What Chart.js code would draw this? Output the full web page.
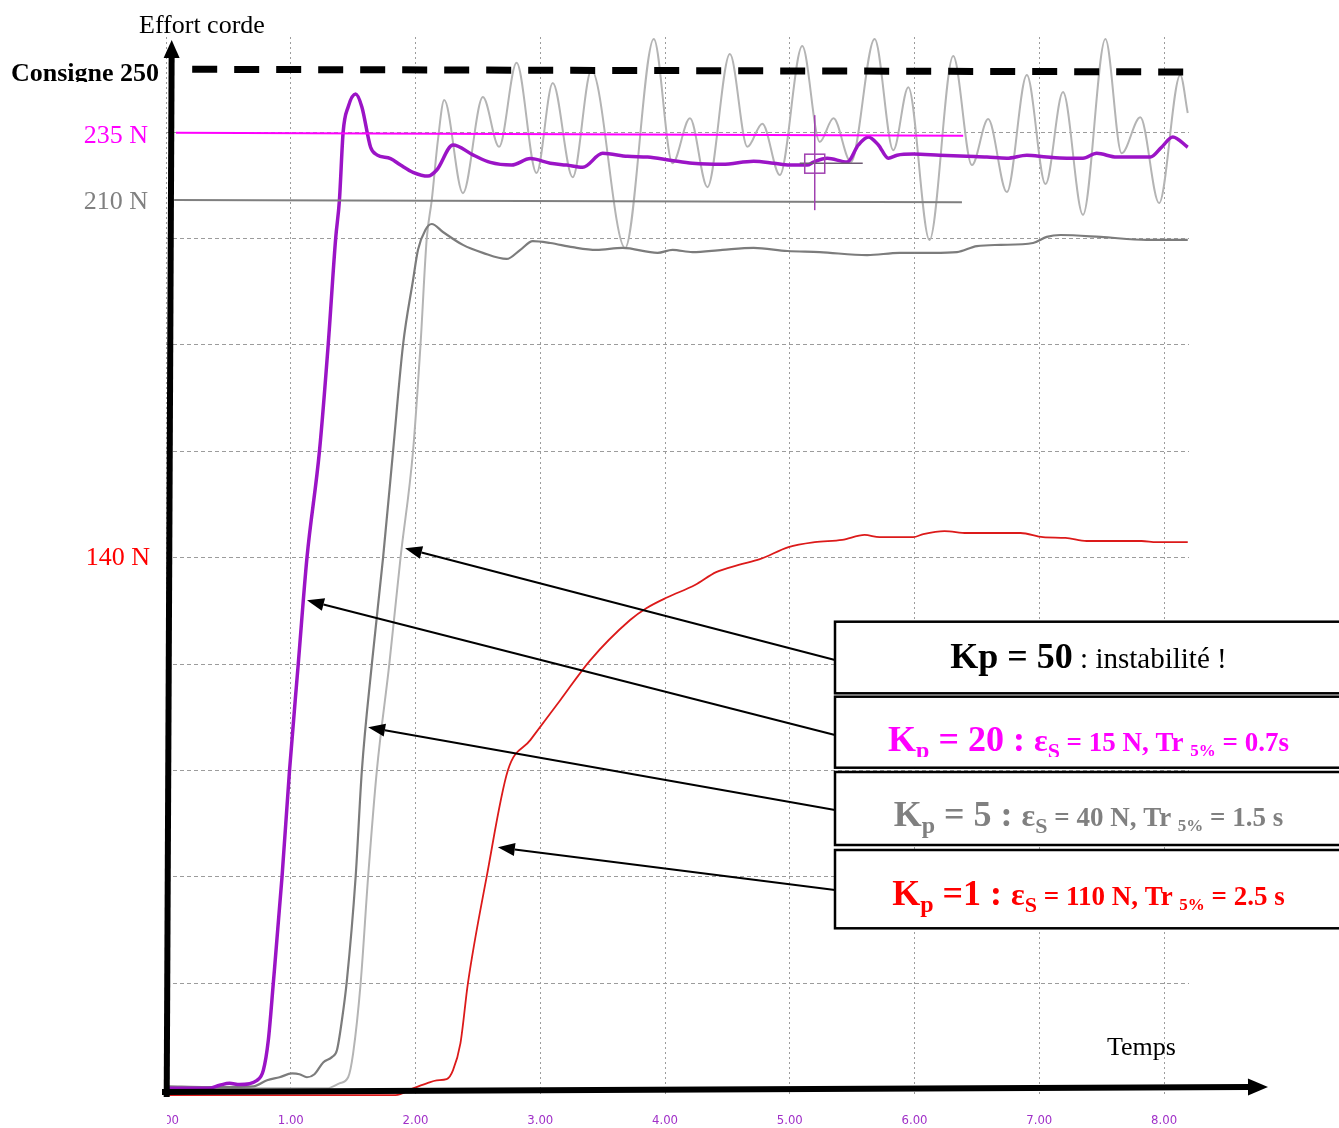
<!DOCTYPE html>
<html lang="fr">
<head>
<meta charset="utf-8">
<title>Effort corde</title>
<script src="https://cdn.jsdelivr.net/npm/chart.js"></script>
<style>
  html, body { margin: 0; padding: 0; background: #fff; }
  #chart { display: block; }
</style>
</head>
<body>
<canvas id="chart" width="1339" height="1128"></canvas>
<script>
const kp20Time = [0.02,0.34,0.43,0.51,0.59,0.73,0.78,0.82,0.86,0.93,0.99,1.06,1.13,1.23,1.30,1.36,1.39,1.42,1.46,1.52,1.57,1.64,1.69,1.80,1.88,1.98,2.10,2.17,2.30,2.46,2.60,2.77,2.92,3.08,3.21,3.34,3.50,3.70,3.86,4.04,4.22,4.46,4.71,4.87,5.00,5.14,5.19,5.30,5.46,5.55,5.63,5.71,5.79,5.86,5.99,6.20,6.42,6.58,6.74,6.90,7.06,7.22,7.35,7.46,7.62,7.75,7.89,7.98,8.07,8.19];
const kp20Force = [0.4,0.4,1.2,1.7,1.4,2.5,5.1,13,28,56,84,112,140,168,196,224,234,252,258.6,262,258.6,248,246,245,243.3,241.4,240.4,242,248.6,246,244,243.3,245,243.8,243.3,242.7,246.4,245.6,245.4,244.6,243.8,243.5,244.3,243.8,243.3,243.3,244.1,245.1,244.1,248.6,250.7,248.6,245.1,245.9,246.2,245.9,245.6,245.4,245.1,245.9,245.4,245.1,245.1,246.4,245.4,245.4,245.4,248,250.7,248];

const kp5Time = [0.02,0.33,0.70,0.81,0.91,1.01,1.07,1.13,1.19,1.26,1.33,1.37,1.41,1.45,1.52,1.57,1.65,1.74,1.82,1.90,1.98,2.02,2.08,2.13,2.22,2.38,2.54,2.73,2.84,2.94,3.08,3.26,3.45,3.66,3.94,4.06,4.22,4.46,4.71,4.98,5.24,5.62,5.88,6.15,6.34,6.50,6.69,6.95,7.06,7.17,7.49,7.86,8.19];
const kp5Force = [0.9,0.7,0.9,2.5,3.3,4.3,4.1,3.3,4.1,7.2,8.6,10.4,18.3,28.8,56,84,112,140,168,196,213,221,226.3,227.8,225.7,222.3,220.2,218.6,221,223.3,222.8,221.7,221,221.5,220.2,221,220.4,221,221.5,220.7,220.4,219.6,220.2,220.2,220.4,222,222.3,222.8,224.4,224.9,224.4,223.6,223.6];

const kp50Time = [0.02,1.29,1.39,1.46,1.50,1.56,1.62,1.69,1.79,1.88,1.98,2.04,2.09,2.13,2.18,2.23,2.38,2.54,2.67,2.81,2.97,3.10,3.26,3.41,3.68,3.91,4.06,4.20,4.34,4.52,4.66,4.78,4.92,5.10,5.24,5.35,5.49,5.68,5.83,5.95,6.12,6.31,6.46,6.59,6.74,6.90,7.05,7.19,7.35,7.53,7.66,7.81,7.96,8.13,8.19];
const kp50Force = [0.4,0.4,1.7,3.3,9.6,28,56,84,112,140,168,196,224,234,250,260.4,235.9,261.2,248.1,270.2,241.2,264.9,240.1,268.3,221.5,276.5,243.8,255.6,237.5,272.5,248.1,254.2,240.7,274.6,249.4,255.6,244.1,276.5,247.2,263.8,223.6,272,243.3,255.4,236.2,267,238.3,262.5,230.2,276.5,246.4,255.9,233.3,267,257];

const kp1Time = [0.02,1.84,1.98,2.09,2.17,2.25,2.30,2.36,2.42,2.57,2.74,2.92,3.16,3.40,3.72,3.85,4.02,4.24,4.41,4.59,4.76,4.99,5.20,5.42,5.60,5.72,5.99,6.07,6.24,6.42,6.73,6.85,7.03,7.21,7.38,7.82,7.94,8.19];
const kp1Force = [-1.4,-1.4,0.4,1.7,2.5,2.8,5.1,12.2,28,56,84,92,102.5,113,123.6,126.7,129.6,132.8,136.2,138.1,139.6,142.8,144.1,144.7,146,145.4,145.4,146.2,147,146.5,146.5,146.5,145.4,145.2,144.4,144.4,144.1,144.1];

const timeTicks = [0, 1, 2, 3, 4, 5, 6, 7, 8];
const forceGrid = [0, 28, 56, 84, 112, 140, 168, 196, 224, 252];

const serif = '"Liberation Serif", "Times New Roman", serif';
function font(size, bold) {
  return (bold ? 'bold ' : '') + size + 'px ' + serif;
}

function toPoints(times, values) {
  return times.map((t, i) => ({ x: t, y: values[i] }));
}

function arrow(ctx, x1, y1, x2, y2, head, half) {
  const a = Math.atan2(y2 - y1, x2 - x1);
  const bx = x2 - head * Math.cos(a), by = y2 - head * Math.sin(a);
  ctx.beginPath();
  ctx.moveTo(x1, y1);
  ctx.lineTo(bx, by);
  ctx.stroke();
  ctx.beginPath();
  ctx.moveTo(x2, y2);
  ctx.lineTo(bx - half * Math.sin(a), by + half * Math.cos(a));
  ctx.lineTo(bx + half * Math.sin(a), by - half * Math.cos(a));
  ctx.closePath();
  ctx.fill();
}

// texte sur une ligne avec indices, centre sur cx
function richText(ctx, parts, cx, base, color) {
  let total = 0;
  parts.forEach(p => {
    ctx.font = font(p.s, p.b);
    p.w = ctx.measureText(p.t).width;
    total += p.w;
  });
  let px = cx - total / 2;
  ctx.fillStyle = color;
  ctx.textAlign = 'left';
  ctx.textBaseline = 'alphabetic';
  parts.forEach(p => {
    ctx.font = font(p.s, p.b);
    ctx.fillText(p.t, px, base + (p.dy || 0));
    px += p.w;
  });
}

function kpParts(gain, eps, tr) {
  return [
    { t: 'K', s: 36, b: true },
    { t: 'p', s: 24, b: true, dy: 7 },
    { t: gain, s: 36, b: true },
    { t: 'ε', s: 32, b: true },
    { t: 'S', s: 22, b: true, dy: 7 },
    { t: eps, s: 27, b: true },
    { t: '5%', s: 17, b: true, dy: 5 },
    { t: tr, s: 27, b: true }
  ];
}

const annotations = {
  id: 'annotations',
  afterDatasetsDraw(chart) {
    const { ctx, scales: { x, y } } = chart;
    ctx.save();
    // consigne 250
    ctx.strokeStyle = '#000';
    ctx.lineWidth = 7;
    ctx.setLineDash([25, 17]);
    ctx.beginPath();
    ctx.moveTo(x.getPixelForValue(0.21), y.getPixelForValue(268.5));
    ctx.lineTo(x.getPixelForValue(8.19), y.getPixelForValue(267.8));
    ctx.stroke();
    ctx.setLineDash([]);
    // niveaux reperes
    ctx.lineWidth = 2;
    ctx.strokeStyle = '#ff00ff';
    ctx.beginPath();
    ctx.moveTo(x.getPixelForValue(0.08), y.getPixelForValue(251.8));
    ctx.lineTo(x.getPixelForValue(6.39), y.getPixelForValue(251.0));
    ctx.stroke();
    ctx.strokeStyle = '#7f7f7f';
    ctx.beginPath();
    ctx.moveTo(x.getPixelForValue(0.065), y.getPixelForValue(234.1));
    ctx.lineTo(x.getPixelForValue(6.38), y.getPixelForValue(233.5));
    ctx.stroke();
    // curseur
    const cx = x.getPixelForValue(5.2), cy = y.getPixelForValue(243.8);
    ctx.lineWidth = 1.5;
    ctx.strokeStyle = '#6e5a72';
    ctx.beginPath();
    ctx.moveTo(cx - 15, cy);
    ctx.lineTo(cx + 48, cy);
    ctx.stroke();
    ctx.strokeStyle = '#a040b0';
    ctx.beginPath();
    ctx.moveTo(cx, cy - 48);
    ctx.lineTo(cx, cy + 47);
    ctx.stroke();
    ctx.strokeRect(cx - 10, cy - 9, 20, 19);
    ctx.restore();
  },
  afterDraw(chart) {
    const { ctx, scales: { x, y } } = chart;
    ctx.save();
    // masque la moitie gauche du "0.00"
    ctx.fillStyle = '#fff';
    ctx.fillRect(140, 1106, 27, 22);

    // fleches vers les courbes
    ctx.strokeStyle = '#000';
    ctx.fillStyle = '#000';
    ctx.lineWidth = 2;
    arrow(ctx, 835, 660, x.getPixelForValue(1.916), y.getPixelForValue(142.5), 17, 6.5);
    arrow(ctx, 835, 735, x.getPixelForValue(1.13), y.getPixelForValue(128.8), 17, 6.5);
    arrow(ctx, 835, 810, x.getPixelForValue(1.62), y.getPixelForValue(95.4), 17, 6.5);
    arrow(ctx, 835, 890, x.getPixelForValue(2.66), y.getPixelForValue(63.8), 17, 6.5);

    // axes
    ctx.lineWidth = 6;
    arrow(ctx, 166.7, 1097, 171.7, 40, 18, 8);
    arrow(ctx, 162, 1092, 1268, 1087, 20, 8.5);

    // cadres de legende
    const boxes = [[621.7, 693.3], [696.7, 767.7], [772, 845], [850, 928.3]];
    ctx.lineWidth = 2.5;
    boxes.forEach(b => {
      ctx.fillStyle = '#fff';
      ctx.fillRect(835, b[0], 520, b[1] - b[0]);
      ctx.strokeRect(835, b[0], 520, b[1] - b[0]);
    });

    const mid = 1088.5;
    richText(ctx, [
      { t: 'Kp = 50', s: 36, b: true },
      { t: ' : instabilité !', s: 29, b: false }
    ], mid, 668, '#000');

    ctx.save();
    ctx.beginPath();
    ctx.rect(836, 698, 510, 59);
    ctx.clip();
    richText(ctx, kpParts(' = 20 : ', ' = 15 N, Tr ', ' = 0.7s'), mid, 751, '#ff00ff');
    ctx.restore();
    richText(ctx, kpParts(' = 5 : ', ' = 40 N, Tr ', ' = 1.5 s'), mid, 826, '#808080');
    richText(ctx, kpParts(' =1 : ', ' = 110 N, Tr ', ' = 2.5 s'), mid, 905, '#ff0000');

    // textes des axes
    ctx.textBaseline = 'alphabetic';
    ctx.textAlign = 'left';
    ctx.fillStyle = '#000';
    ctx.font = font(26, false);
    ctx.fillText('Effort corde', 139, 33);
    ctx.fillText('Temps', 1107, 1055);

    ctx.save();
    ctx.beginPath();
    ctx.rect(0, 50, 165, 32);
    ctx.clip();
    ctx.font = font(26, true);
    ctx.fillText('Consigne 250', 11, 80.5);
    ctx.restore();

    ctx.textAlign = 'right';
    ctx.font = font(26, false);
    ctx.fillStyle = '#ff00ff';
    ctx.fillText('235 N', 148, 143);
    ctx.fillStyle = '#808080';
    ctx.fillText('210 N', 148, 209);
    ctx.fillStyle = '#ff0000';
    ctx.fillText('140 N', 150, 565);
    ctx.restore();
  }
};

new Chart(document.getElementById('chart'), {
  type: 'line',
  data: {
    datasets: [
      { label: 'Kp = 20', data: toPoints(kp20Time, kp20Force), borderColor: '#9b14c6', borderWidth: 3.5 },
      { label: 'Kp = 5', data: toPoints(kp5Time, kp5Force), borderColor: '#7c7c7c', borderWidth: 2.2 },
      { label: 'Kp = 1', data: toPoints(kp1Time, kp1Force), borderColor: '#dc1a1a', borderWidth: 1.8 },
      { label: 'Kp = 50', data: toPoints(kp50Time, kp50Force), borderColor: '#b4b4b4', borderWidth: 2 }
    ]
  },
  options: {
    responsive: false,
    animation: false,
    devicePixelRatio: 1,
    layout: { padding: { left: 166, right: 150, top: 37, bottom: -15 } },
    plugins: { legend: { display: false }, tooltip: { enabled: false } },
    elements: {
      point: { radius: 0 },
      line: { cubicInterpolationMode: 'monotone', fill: false }
    },
    scales: {
      x: {
        type: 'linear',
        min: 0,
        max: 8.2,
        afterBuildTicks: s => { s.ticks = timeTicks.map(v => ({ value: v })); },
        grid: { color: '#9c9c9c', lineWidth: 1, drawTicks: false },
        border: { display: false, dash: [2, 3] },
        ticks: {
          padding: 15,
          color: '#a030c8',
          font: { family: '"Liberation Sans Narrow", "DejaVu Sans Condensed", sans-serif', size: 13 },
          callback: v => Number(v).toFixed(2)
        }
      },
      y: {
        type: 'linear',
        min: -2,
        max: 277,
        afterBuildTicks: s => { s.ticks = forceGrid.map(v => ({ value: v })); },
        grid: { color: '#9c9c9c', lineWidth: 1, drawTicks: false },
        border: { display: false, dash: [4, 3] },
        ticks: { display: false }
      }
    }
  },
  plugins: [annotations]
});
</script>
</body>
</html>
